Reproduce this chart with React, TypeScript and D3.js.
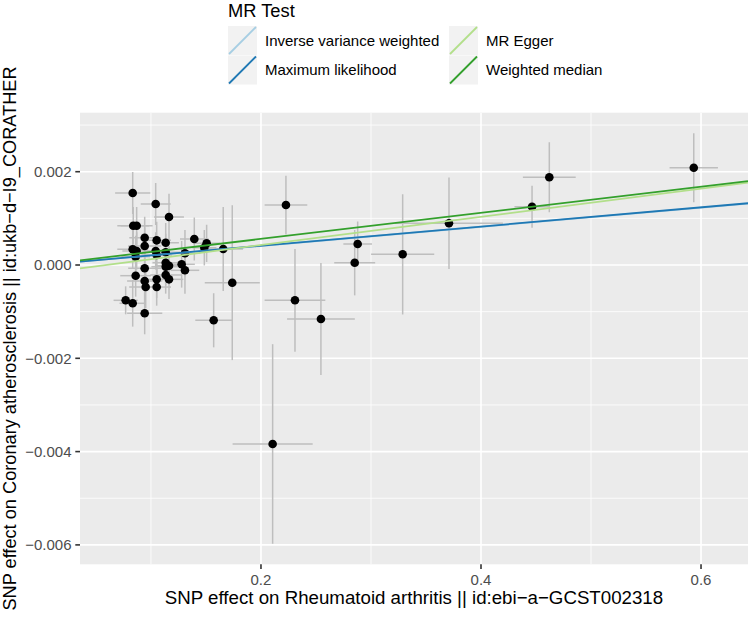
import React from "react";
import * as d3 from "d3";

// SNP-level data (exposure beta, outcome beta, standard errors)
const snpX = [
  0.0834, 0.1043, 0.1164, 0.0839, 0.0870, 0.0943, 0.1052, 0.1134, 0.0943, 0.1394,
  0.1506, 0.1485, 0.0834, 0.0870, 0.0861, 0.1043, 0.1052, 0.1134, 0.1309, 0.1657,
  0.0943, 0.1134, 0.1134, 0.1164, 0.1279, 0.1309, 0.0861, 0.1134, 0.1164, 0.0943,
  0.1052, 0.0952, 0.1052, 0.0770, 0.0834, 0.0943, 0.1570, 0.1739, 0.2227, 0.2309,
  0.2545, 0.2106, 0.2852, 0.2879, 0.3288, 0.3709, 0.4464, 0.4621, 0.5934,
];
const snpY = [
  0.001543, 0.001308, 0.001029, 0.000842, 0.000842, 0.000585, 0.000529, 0.000478, 0.000407, 0.000557,
  0.000465, 0.000371, 0.000337, 0.000300, 0.000178, 0.000300, 0.000214, 0.000272, 0.000251, 0.000343,
  -0.000071, 0.000049, -0.000036, -0.000015, 0.000015, -0.000114, -0.000229, -0.000214, -0.000307, -0.000343,
  -0.000307, -0.000472, -0.000472, -0.000757, -0.000821, -0.001035, -0.001185, -0.000379, 0.001286, -0.000757,
  -0.001158, -0.003837, 0.000049, 0.000450, 0.000229, 0.000894, 0.001250, 0.001880, 0.002086,
];
const seX = [
  0.016, 0.0136, 0.0136, 0.0145, 0.0145, 0.014, 0.013, 0.012, 0.015, 0.013,
  0.012, 0.011, 0.014, 0.013, 0.013, 0.012, 0.014, 0.013, 0.014, 0.018,
  0.015, 0.012, 0.013, 0.012, 0.012, 0.013, 0.014, 0.014, 0.013, 0.016,
  0.014, 0.015, 0.013, 0.011, 0.012, 0.016, 0.0167, 0.025, 0.0194, 0.0276,
  0.0308, 0.0364, 0.0186, 0.013, 0.0287, 0.049, 0.016, 0.024, 0.022,
];
const seY = [
  0.00045, 0.00045, 0.0005, 0.0004, 0.0004, 0.00045, 0.0004, 0.00042, 0.0004, 0.00046,
  0.0004, 0.00038, 0.00042, 0.0004, 0.00045, 0.0004, 0.00042, 0.0004, 0.0005, 0.0009,
  0.00045, 0.0004, 0.0004, 0.00042, 0.0005, 0.0005, 0.00045, 0.0004, 0.00042, 0.00048,
  0.0004, 0.00045, 0.0004, 0.0003, 0.0005, 0.00045, 0.00058, 0.00166, 0.00063, 0.0011,
  0.0012, 0.00214, 0.0007, 0.00048, 0.00129, 0.00098, 0.00045, 0.00075, 0.00074,
];

// MR estimates
const methods = ["Inverse variance weighted", "Maximum likelihood", "MR Egger", "Weighted median"];
const intercepts = [0, 0, -0.000178, 0];
const slopes = [0.00205, 0.00206, 0.003028, 0.0028];
const methodColors = ["#a6cee3", "#1f78b4", "#b2df8a", "#33a02c"];

// axis settings
const xDomain = [0.0355, 0.6427];
const yDomain = [-0.006416, 0.003265];
const xTicks = [0.2, 0.4, 0.6];
const xMinor = [0.1, 0.3, 0.5];
const yTicks = [0.002, 0, -0.002, -0.004, -0.006];
const yMinor = [0.003, 0.001, -0.001, -0.003, -0.005];
const xTitle = "SNP effect on Rheumatoid arthritis || id:ebi\u2212a\u2212GCST002318";
const yTitle = "SNP effect on Coronary atherosclerosis || id:ukb\u2212d\u2212I9_CORATHER";
const legendTitle = "MR Test";

const W = 750;
const H = 620;
const P = { left: 80, right: 748, top: 112.7, bottom: 564.3 };
const FONT = "'Liberation Sans', Arial, Helvetica, sans-serif";

const fmt = (v: number) => d3.format(".3f")(v).replace("-", "\u2212");
const fmtX = (v: number) => d3.format(".1f")(v);

export default function App() {
  const x = d3.scaleLinear().domain(xDomain).range([P.left, P.right]);
  const y = d3.scaleLinear().domain(yDomain).range([P.bottom, P.top]);
  const idx = d3.range(snpX.length);

  return (
    <svg width={W} height={H} style={{ display: "block", position: "absolute", left: 0, top: 0 }} fontFamily={FONT}>
      <rect x={0} y={0} width={W} height={H} fill="#ffffff" />
      <defs>
        <clipPath id="panel">
          <rect x={P.left} y={P.top} width={P.right - P.left} height={P.bottom - P.top} />
        </clipPath>
      </defs>
      {/* panel */}
      <rect x={P.left} y={P.top} width={P.right - P.left} height={P.bottom - P.top} fill="#ebebeb" />
      <g clipPath="url(#panel)">
        {yMinor.map((v) => (
          <line key={"ym" + v} x1={P.left} x2={P.right} y1={y(v)} y2={y(v)} stroke="#ffffff" strokeWidth={0.8} />
        ))}
        {xMinor.map((v) => (
          <line key={"xm" + v} y1={P.top} y2={P.bottom} x1={x(v)} x2={x(v)} stroke="#ffffff" strokeWidth={0.8} />
        ))}
        {yTicks.map((v) => (
          <line key={"yg" + v} x1={P.left} x2={P.right} y1={y(v)} y2={y(v)} stroke="#ffffff" strokeWidth={1.6} />
        ))}
        {xTicks.map((v) => (
          <line key={"xg" + v} y1={P.top} y2={P.bottom} x1={x(v)} x2={x(v)} stroke="#ffffff" strokeWidth={1.6} />
        ))}
        {/* vertical error bars */}
        {idx.map((i) => (
          <line
            key={"ev" + i}
            x1={x(snpX[i])}
            x2={x(snpX[i])}
            y1={y(snpY[i] - seY[i])}
            y2={y(snpY[i] + seY[i])}
            stroke="#bebebe"
            strokeWidth={1.5}
          />
        ))}
        {/* horizontal error bars */}
        {idx.map((i) => (
          <line
            key={"eh" + i}
            x1={x(snpX[i] - seX[i])}
            x2={x(snpX[i] + seX[i])}
            y1={y(snpY[i])}
            y2={y(snpY[i])}
            stroke="#bebebe"
            strokeWidth={1.5}
          />
        ))}
        {idx.map((i) => (
          <circle key={"p" + i} cx={x(snpX[i])} cy={y(snpY[i])} r={4.3} fill="#000000" />
        ))}
        {methods.map((m, k) => (
          <line
            key={"ab" + m}
            x1={x(xDomain[0])}
            x2={x(xDomain[1])}
            y1={y(intercepts[k] + slopes[k] * xDomain[0])}
            y2={y(intercepts[k] + slopes[k] * xDomain[1])}
            stroke={methodColors[k]}
            strokeWidth={1.8}
          />
        ))}
      </g>
      {/* y axis */}
      {yTicks.map((v) => (
        <g key={"yt" + v}>
          <line x1={P.left - 4.7} x2={P.left} y1={y(v)} y2={y(v)} stroke="#333333" strokeWidth={1.6} />
          <text x={P.left - 8.5} y={y(v)} dy="0.36em" textAnchor="end" fontSize={15} fill="#4d4d4d">
            {fmt(v)}
          </text>
        </g>
      ))}
      {/* x axis */}
      {xTicks.map((v) => (
        <g key={"xt" + v}>
          <line x1={x(v)} x2={x(v)} y1={P.bottom} y2={P.bottom + 4.7} stroke="#333333" strokeWidth={1.6} />
          <text x={x(v)} y={584.7} textAnchor="middle" fontSize={15} fill="#4d4d4d">
            {fmtX(v)}
          </text>
        </g>
      ))}
      <text x={(P.left + P.right) / 2} y={603.5} textAnchor="middle" fontSize={18.7} fill="#000000">
        {xTitle}
      </text>
      <text
        transform={`translate(16,${(P.top + P.bottom) / 2}) rotate(-90)`}
        textAnchor="middle"
        fontSize={18.2}
        fill="#000000"
      >
        {yTitle}
      </text>
      {/* legend */}
      <text x={228} y={16.5} fontSize={18.3} fill="#000000">
        {legendTitle}
      </text>
      {methods.map((m, k) => {
        const col = Math.floor(k / 2);
        const row = k % 2;
        const kx = col === 0 ? 228 : 449;
        const ky = 26 + row * 29.5;
        return (
          <g key={"lg" + m}>
            <rect x={kx} y={ky} width={29} height={29} fill="#f2f2f2" />
            <line x1={kx + 1} y1={ky + 28} x2={kx + 28} y2={ky + 1} stroke={methodColors[k]} strokeWidth={1.8} />
            <text x={kx + 37} y={ky + 14.5} dy="0.36em" fontSize={15} fill="#000000">
              {m}
            </text>
          </g>
        );
      })}
    </svg>
  );
}
